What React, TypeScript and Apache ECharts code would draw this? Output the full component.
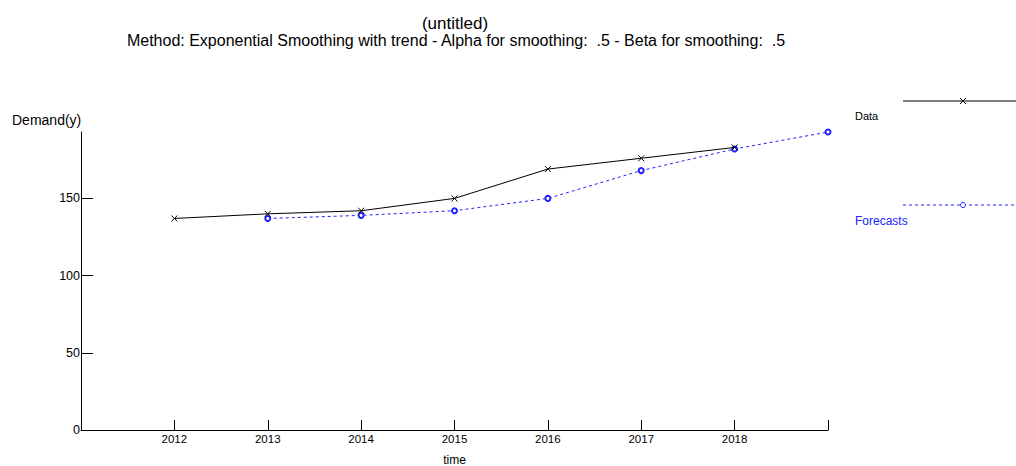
import React, { useEffect, useRef } from "react";
import * as echarts from "echarts";

const years = [2012, 2013, 2014, 2015, 2016, 2017, 2018, 2019];
const dataValues = [137, 140, 142, 150, 169, 176, 183];
const forecastValues: (number | null)[] = [null, 137, 139, 142, 150, 168, 182, 193];
const yTicks = [0, 50, 100, 150];
const xTicks = [2012, 2013, 2014, 2015, 2016, 2017, 2018, 2019];
const xLabels = [2012, 2013, 2014, 2015, 2016, 2017, 2018];

const FONT = "'Liberation Sans', Arial, sans-serif";
const BLUE = "#2323ff";

export default function App() {
  const ref = useRef<HTMLDivElement>(null);
  useEffect(() => {
    if (!ref.current) return;
    const chart = echarts.init(ref.current, undefined, { renderer: "svg" });
    const dataSeries = dataValues.map((v, i) => [years[i], v]);
    const fcSeries = forecastValues
      .map((v, i) => (v == null ? null : [years[i], v]))
      .filter((p) => p !== null);
    const yMax = Math.max(...dataValues, ...(forecastValues.filter((v) => v != null) as number[]));
    chart.setOption({
      animation: false,
      backgroundColor: "#fff",
      grid: {
        left: 81,
        right: 188,
        top: 132,
        bottom: 36,
        containLabel: false,
        outerBoundsMode: "none",
      },
      xAxis: {
        type: "value",
        min: 2011,
        max: 2019,
        interval: 1,
        name: "time",
        nameLocation: "middle",
        nameGap: 24,
        nameTextStyle: { color: "#000", fontFamily: FONT, fontSize: 12 },
        axisLine: { lineStyle: { color: "#000", width: 1 } },
        axisTick: { inside: true, length: 10, customValues: xTicks, lineStyle: { color: "#000" } },
        axisLabel: {
          customValues: xLabels,
          color: "#000",
          fontFamily: FONT,
          fontSize: 11.5,
          margin: 3,
          formatter: (v: number) => String(v),
        },
        splitLine: { show: false },
      },
      yAxis: {
        type: "value",
        min: 0,
        max: yMax,
        axisLine: { show: true, lineStyle: { color: "#000", width: 1 } },
        axisTick: { show: true, inside: true, length: 12, customValues: yTicks, lineStyle: { color: "#000" } },
        axisLabel: {
          customValues: yTicks,
          color: "#000",
          fontFamily: FONT,
          fontSize: 12.5,
          margin: 1,
        },
        splitLine: { show: false },
      },
      series: [
        {
          name: "Data",
          type: "line",
          data: dataSeries,
          symbol: "path://M0,0L10,10M10,0L0,10",
          symbolSize: 6,
          showAllSymbol: true,
          itemStyle: { color: "none", borderColor: "#000", borderWidth: 1 },
          lineStyle: { color: "#000", width: 1 },
          z: 3,
        },
        {
          name: "Forecasts",
          type: "line",
          data: fcSeries,
          symbol: "emptyCircle",
          symbolSize: 5,
          showAllSymbol: true,
          itemStyle: { color: BLUE, borderColor: BLUE, borderWidth: 1 },
          lineStyle: { color: BLUE, width: 1, type: [3, 3] },
          z: 2,
        },
      ],
      graphic: [
        {
          type: "text",
          x: 455,
          y: 23,
          style: {
            text: "(untitled)",
            fill: "#000",
            font: `17px ${FONT}`,
            textAlign: "center",
            textVerticalAlign: "middle",
          },
        },
        {
          type: "text",
          x: 456,
          y: 40,
          style: {
            text: "Method: Exponential Smoothing with trend - Alpha for smoothing:  .5 - Beta for smoothing:  .5",
            fill: "#000",
            font: `16px ${FONT}`,
            textAlign: "center",
            textVerticalAlign: "middle",
          },
        },
        {
          type: "text",
          x: 12,
          y: 120,
          style: { text: "Demand(y)", fill: "#000", font: `14px ${FONT}`, textVerticalAlign: "middle" },
        },
        {
          type: "line",
          shape: { x1: 903, y1: 101, x2: 1016, y2: 101 },
          style: { stroke: "#000", lineWidth: 1 },
        },
        {
          type: "line",
          shape: { x1: 960, y1: 98, x2: 966, y2: 104 },
          style: { stroke: "#000", lineWidth: 1 },
        },
        {
          type: "line",
          shape: { x1: 966, y1: 98, x2: 960, y2: 104 },
          style: { stroke: "#000", lineWidth: 1 },
        },
        {
          type: "text",
          x: 855,
          y: 116,
          style: { text: "Data", fill: "#000", font: `11px ${FONT}`, textVerticalAlign: "middle" },
        },
        {
          type: "line",
          shape: { x1: 903, y1: 205, x2: 1016, y2: 205 },
          style: { stroke: BLUE, lineWidth: 1, lineDash: [3, 3] },
        },
        {
          type: "circle",
          shape: { cx: 963, cy: 205, r: 2.5 },
          style: { stroke: BLUE, fill: "#fff", lineWidth: 1 },
        },
        {
          type: "text",
          x: 855,
          y: 221,
          style: { text: "Forecasts", fill: BLUE, font: `12px ${FONT}`, textVerticalAlign: "middle" },
        },
      ],
    });
    return () => chart.dispose();
  }, []);
  return (
    <div
      ref={ref}
      style={{ position: "absolute", left: 0, top: 0, width: 1016, height: 466 }}
    />
  );
}
